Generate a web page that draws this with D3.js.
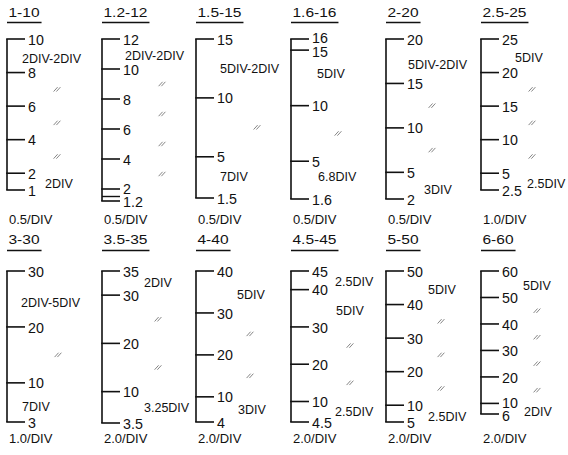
<!DOCTYPE html>
<html><head><meta charset="utf-8">
<script src="https://cdn.jsdelivr.net/npm/d3@7"></script>
<style>
body{margin:0;background:#fff;}
svg{display:block;}
text{font-family:"Liberation Sans",Arial,Helvetica,sans-serif;fill:#111;}
</style></head><body>
<svg id="chart" width="568" height="455"></svg>
<script>
// ---- data ----
const titles = ["1-10","1.2-12","1.5-15","1.6-16","2-20","2.5-25","3-30","3.5-35","4-40","4.5-45","5-50","6-60"];
const scaleMin = [1,1.2,1.5,1.6,2,2.5,3,3.5,4,4.5,5,6];
const scaleMax = [10,12,15,16,20,25,30,35,40,45,50,60];
const tickValues = [
  [10,8,6,4,2,1],
  [12,10,8,6,4,2,1.2],
  [15,10,5,1.5],
  [16,15,10,5,1.6],
  [20,15,10,5,2],
  [25,20,15,10,5,2.5],
  [30,20,10,3],
  [35,30,20,10,3.5],
  [40,30,20,10,4],
  [45,40,30,20,10,4.5],
  [50,40,30,20,10,5],
  [60,50,40,30,20,10,6]
];
const minorTicks = [[],[1.5],[],[],[],[],[],[],[],[],[],[]];
const resolution = ["0.5/DIV","0.5/DIV","0.5/DIV","0.5/DIV","0.5/DIV","1.0/DIV",
                    "1.0/DIV","2.0/DIV","2.0/DIV","2.0/DIV","2.0/DIV","2.0/DIV"];
const breakMarks = [[7,5,3],[9,7,5,3],[7.5],[7.5],[12.5,7.5],[17.5,12.5,7.5],
                    [15],[25,15],[25,15],[25,15],[35,25,15],[45,35,25,15]];
const divTexts = [["2DIV-2DIV","2DIV"],["2DIV-2DIV"],["5DIV-2DIV","7DIV"],["5DIV","6.8DIV"],
                  ["5DIV-2DIV","3DIV"],["5DIV","2.5DIV"],["2DIV-5DIV","7DIV"],["2DIV","3.25DIV"],
                  ["5DIV","3DIV"],["2.5DIV","5DIV","2.5DIV"],["5DIV","2.5DIV"],["5DIV","2DIV"]];
const divAt = [[8.85,1.4],[10.9],[12.5,3.3],[12.9,3.6],[17.1,3.1],[22.2,3.4],
               [24.3,5.8],[32.6,6.7],[34.3,6.9],[42.3,34.4,7.4],[44.6,6.5],[54.7,6.9]];

// ---- layout ----
const colX = [7,102,196,291,386,481];
const rows = [
  {titleBase:17, underline:22.5, top:39, footer:224},
  {titleBase:244, underline:250.5, top:271, footer:443}
];
const axisLen = [151,162,159,160,160,151,151,152,151,151,151,143];
const divDx = [[15,38],[23],[24,24],[26,27],[22,38],[34,46],[14,15],[42,42],[41,42],[44,45,44],[42,42],[42,43]];
const markDx = [50,60,61,47,46,51,51,56,54,59,55,56];
const tickLen = 18, labelGap = 21, minLabelGap = 13.5;

const svg = d3.select("#chart");

titles.forEach((title, i) => {
  const row = rows[Math.floor(i / 6)];
  const x0 = colX[i % 6];
  const y = d3.scaleLinear().domain([scaleMin[i], scaleMax[i]]).range([row.top + axisLen[i], row.top]);
  const g = svg.append("g");

  // title (slightly widened) + underline
  const t = g.append("text")
    .attr("transform", `translate(${x0 + 1.5},${row.titleBase}) scale(1.15,1)`)
    .style("font-size", "13.5px")
    .text(title);
  const tw = t.node().getComputedTextLength() * 1.15;
  g.append("line")
    .attr("x1", x0).attr("x2", x0 + tw + 3.5)
    .attr("y1", row.underline).attr("y2", row.underline)
    .attr("stroke", "#111").attr("stroke-width", 1.4);

  // vertical axis line
  g.append("line")
    .attr("x1", x0).attr("x2", x0)
    .attr("y1", y(scaleMax[i])).attr("y2", y(scaleMin[i]))
    .attr("stroke", "#111").attr("stroke-width", 1.6);

  // major ticks
  g.selectAll("line.tick").data(tickValues[i]).join("line")
    .attr("class", "tick")
    .attr("x1", x0 - 0.8).attr("x2", x0 + tickLen)
    .attr("y1", d => y(d)).attr("y2", d => y(d))
    .attr("stroke", "#111").attr("stroke-width", 1.6);

  // minor ticks
  g.selectAll("line.minor").data(minorTicks[i]).join("line")
    .attr("class", "minor")
    .attr("x1", x0).attr("x2", x0 + tickLen)
    .attr("y1", d => y(d)).attr("y2", d => y(d))
    .attr("stroke", "#111").attr("stroke-width", 1.4);

  // tick labels, spread apart when ticks are very close
  const lbl = tickValues[i].map(v => ({v, py: y(v)})).sort((a, b) => a.py - b.py);
  for (let k = 1; k < lbl.length; k++) {
    const gap = lbl[k].py - lbl[k - 1].py;
    if (gap < minLabelGap) {
      const s = (minLabelGap - gap) / 2;
      lbl[k - 1].py -= s;
      lbl[k].py += s;
    }
  }
  g.selectAll("text.lbl").data(lbl).join("text")
    .attr("class", "lbl")
    .attr("transform", d => `translate(${x0 + labelGap},${d.py}) scale(0.92,1)`)
    .attr("dy", "0.36em")
    .style("font-size", "15.5px")
    .text(d => d.v);

  // division annotations
  divTexts[i].forEach((txt, k) => {
    g.append("text")
      .attr("x", x0 + divDx[i][k])
      .attr("y", y(divAt[i][k]))
      .attr("dy", "0.36em")
      .style("font-size", "12.5px")
      .text(txt);
  });

  // break marks "//"
  breakMarks[i].forEach(v => {
    const cx = x0 + markDx[i], cy = y(v);
    [-1.4, 1.4].forEach(off => {
      g.append("line")
        .attr("x1", cx + off - 2).attr("y1", cy + 2.2)
        .attr("x2", cx + off + 2).attr("y2", cy - 2.2)
        .attr("stroke", "#777").attr("stroke-width", 0.9);
    });
  });

  // footer resolution
  g.append("text")
    .attr("x", x0 + 2)
    .attr("y", row.footer)
    .style("font-size", "13px")
    .text(resolution[i]);
});
</script>
</body></html>
